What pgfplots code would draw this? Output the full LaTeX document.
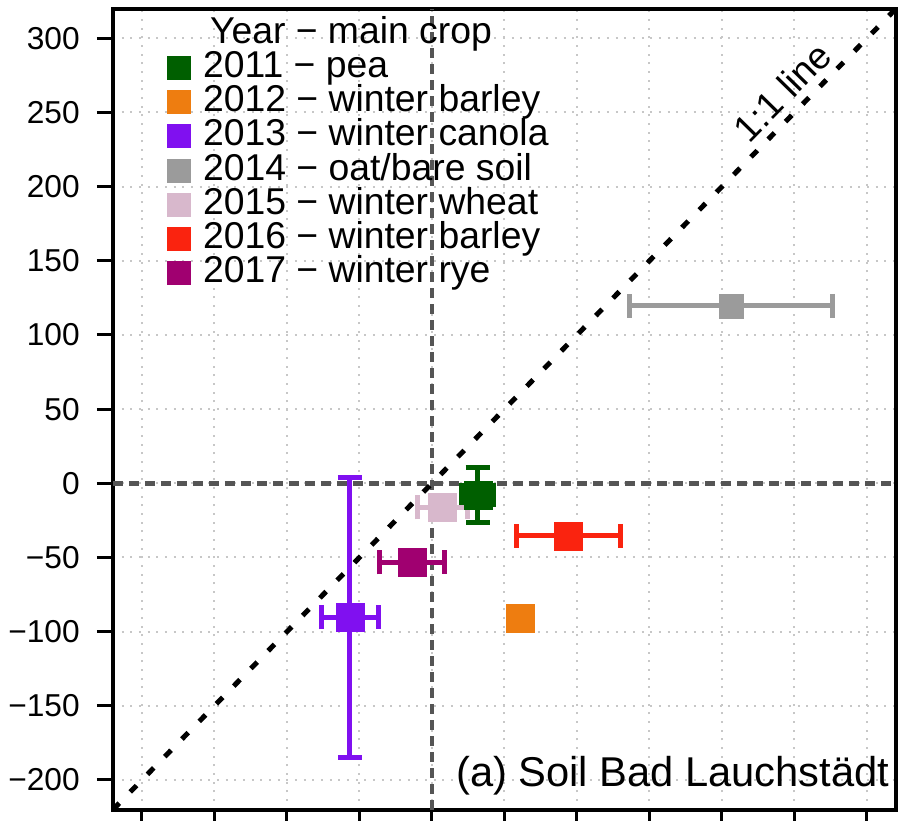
\documentclass[border=0pt]{standalone}
\usepackage{pgfplots}
\pgfplotsset{compat=1.18}
\usepackage{fontspec}
\setmainfont{Liberation Sans}
\definecolor{cpea}{RGB}{0,95,0}
\definecolor{cbarley}{RGB}{238,125,16}
\definecolor{ccanola}{RGB}{128,16,240}
\definecolor{coat}{RGB}{155,155,155}
\definecolor{cwheat}{RGB}{216,184,204}
\definecolor{cbarley2}{RGB}{250,35,15}
\definecolor{crye}{RGB}{160,0,112}
\definecolor{zerogray}{RGB}{85,85,85}
\begin{document}
\begin{tikzpicture}
\begin{axis}[
  at={(0,0)}, anchor=south west,
  scale only axis, width=234.9pt, height=240.3pt,
  xmin=-220, xmax=320, ymin=-220, ymax=320,
  xtick={-200,-150,...,300}, xticklabels={},
  ytick={-200,-150,...,300},
  yticklabels={−200,−150,−100,−50,0,50,100,150,200,250,300},
  tick align=outside, tick pos=left,
  major tick length=4.8pt,
  tick style={black, line width=0.9pt},
  axis line style={line width=1.2pt},
  grid=major,
  grid style={black!22, line width=0.6pt, dash pattern=on 0.6pt off 2pt},
  yticklabel style={font=\fontsize{9.5}{10}\selectfont, inner sep=0pt, xshift=-5pt},
  legend style={draw=none, fill=none, at={(axis description cs:0.069,0.99)}, anchor=north west,
    inner sep=0pt, outer sep=0pt, row sep=0pt, column sep=3.6pt,
    font=\fontsize{11.2}{13}\selectfont,
    nodes={inner sep=0pt, text height=8pt, text depth=2.26pt}},
  legend cell align=left,
  legend image code/.code={\fill[#1, draw=none] (0pt,-3.6pt) rectangle (7.2pt,3.6pt);},
  eb/.style={only marks, mark=square*, line width=1.5pt, mark options={line width=0.1pt},
    error bars/x dir=both, error bars/x explicit, error bars/y dir=both, error bars/y explicit,
    error bars/error bar style={line width=1.5pt},
    error bars/error mark options={rotate=90, mark size=3.6pt, line width=1.5pt}},
]
% legend
\addlegendimage{empty legend}\addlegendentry{\hspace{2.1pt}Year − main crop}
\addlegendimage{fill=cpea, draw=none}\addlegendentry{2011 − pea}
\addlegendimage{fill=cbarley, draw=none}\addlegendentry{2012 − winter barley}
\addlegendimage{fill=ccanola, draw=none}\addlegendentry{2013 − winter canola}
\addlegendimage{fill=coat, draw=none}\addlegendentry{2014 − oat/bare soil}
\addlegendimage{fill=cwheat, draw=none}\addlegendentry{2015 − winter wheat}
\addlegendimage{fill=cbarley2, draw=none}\addlegendentry{2016 − winter barley}
\addlegendimage{fill=crye, draw=none}\addlegendentry{2017 − winter rye}
% reference lines
\addplot[forget plot, zerogray, line width=1.4pt, dash pattern=on 3pt off 1.8pt] coordinates {(-220,0) (320,0)};
\addplot[forget plot, zerogray, line width=1.4pt, dash pattern=on 3pt off 1.8pt] coordinates {(0,-220) (0,320)};
\addplot[forget plot, black, line width=1.5pt, dash pattern=on 2.7pt off 4.7pt] coordinates {(-220,-220) (320,320)};
% data
\addplot[forget plot, color=ccanola, mark size=4.2pt, eb] table[x=x,y=y,x error=ex,y error=ey] {
x y ex ey
-56.7 -90.4 19.5 94.5
};
\addplot[forget plot, color=crye, mark size=4.2pt, eb] table[x=x,y=y,x error=ex,y error=ey] {
x y ex ey
-13.8 -53.3 22.3 2
};
\addplot[forget plot, color=coat, mark size=3.6pt, eb, error bars/y dir=none] table[x=x,y=y,x error=ex,y error=ey] {
x y ex ey
206.3 119.6 70.2 0
};
\addplot[forget plot, color=cbarley2, mark size=4.2pt, eb] table[x=x,y=y,x error=ex,y error=ey] {
x y ex ey
93.9 -35.5 35.9 2
};
\addplot[forget plot, only marks, mark=square*, mark options={line width=0.1pt}, color=cbarley, mark size=4.2pt] table[x=x,y=y] {
x y
60.9 -91.0
};
\addplot[forget plot, color=cpea, mark size=4.2pt, eb] table[x=x,y=y,x error=ex,y error=ey] {
x y ex ey
31.5 -7.9 11.2 18.7
};
\addplot[forget plot, color=cwheat, mark size=4.2pt, eb] table[x=x,y=y,x error=ex,y error=ey] {
x y ex ey
7.1 -16.2 17.2 2
};
\node[rotate=45.6, font=\fontsize{11.2}{13}\selectfont, inner sep=0pt] at (axis cs:241.5,263.9) {1:1 line};
\node[anchor=base east, font=\fontsize{12.5}{14}\selectfont, inner sep=0pt] at ([xshift=-1.8pt,yshift=6.8pt]axis description cs:1,0) {(a) Soil Bad Lauchstädt};
\end{axis}
\pgfresetboundingbox
\useasboundingbox (-33.9pt,-3.42pt) rectangle (237pt,242.88pt);
\end{tikzpicture}
\end{document}
